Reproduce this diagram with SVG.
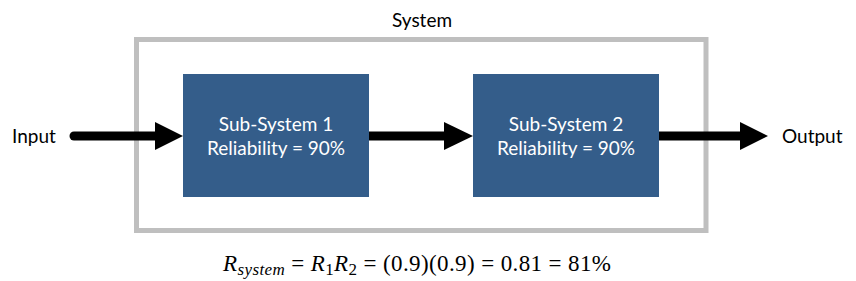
<svg xmlns="http://www.w3.org/2000/svg" width="856" height="281" viewBox="0 0 856 281">
  <style>
    .lbl { font-family: Lato, "Open Sans", "Liberation Sans", sans-serif; font-size: 19px; fill: #000; }
    .box { fill: #345d8a; }
    .boxtxt { font-family: Lato, "Open Sans", "Liberation Sans", sans-serif; font-size: 19px; fill: #ffffff; text-anchor: middle; }
    .shaft { stroke: #000; stroke-width: 9; fill: none; }
    .head { fill: #000; }
    .eq { font-family: "Liberation Serif", "DejaVu Serif", serif; font-size: 23px; fill: #000; }
  </style>
  <rect width="856" height="281" fill="#ffffff"/>
  <g id="system">
    <rect x="136.5" y="39.5" width="569.5" height="191" fill="none" stroke="#bfbfbf" stroke-width="5"/>
    <text class="lbl" x="422" y="27" text-anchor="middle">System</text>
  </g>
  <g id="input">
    <text class="lbl" x="12" y="143">Input</text>
  </g>
  <g id="output">
    <text class="lbl" x="782" y="143">Output</text>
  </g>
  <g id="subsystem1">
    <rect class="box" x="183" y="74" width="186" height="123"/>
    <text class="boxtxt" x="276" y="131">Sub-System 1</text>
    <text class="boxtxt" x="276" y="155">Reliability = 90%</text>
  </g>
  <g id="subsystem2">
    <rect class="box" x="473" y="74" width="186" height="123"/>
    <text class="boxtxt" x="566" y="131">Sub-System 2</text>
    <text class="boxtxt" x="566" y="155">Reliability = 90%</text>
  </g>
  <g id="connectors">
    <line class="shaft" x1="74" y1="136" x2="157" y2="136" stroke-linecap="round"/>
    <polygon class="head" points="155,122 183,136 155,150"/>
    <line class="shaft" x1="369" y1="136" x2="446" y2="136"/>
    <polygon class="head" points="444,122 473,136 444,150"/>
    <line class="shaft" x1="659" y1="136" x2="742" y2="136"/>
    <polygon class="head" points="740,122 768,136 740,150"/>
  </g>
  <g id="equation">
    <text class="eq" x="223" y="271" textLength="388" lengthAdjust="spacing"><tspan font-style="italic">R</tspan><tspan font-style="italic" font-size="17" dy="4">system</tspan><tspan dy="-4"> = </tspan><tspan font-style="italic">R</tspan><tspan font-size="17" dy="4">1</tspan><tspan font-style="italic" dy="-4">R</tspan><tspan font-size="17" dy="4">2</tspan><tspan dy="-4"> = (0.9)(0.9) = 0.81 = 81%</tspan></text>
  </g>
</svg>
